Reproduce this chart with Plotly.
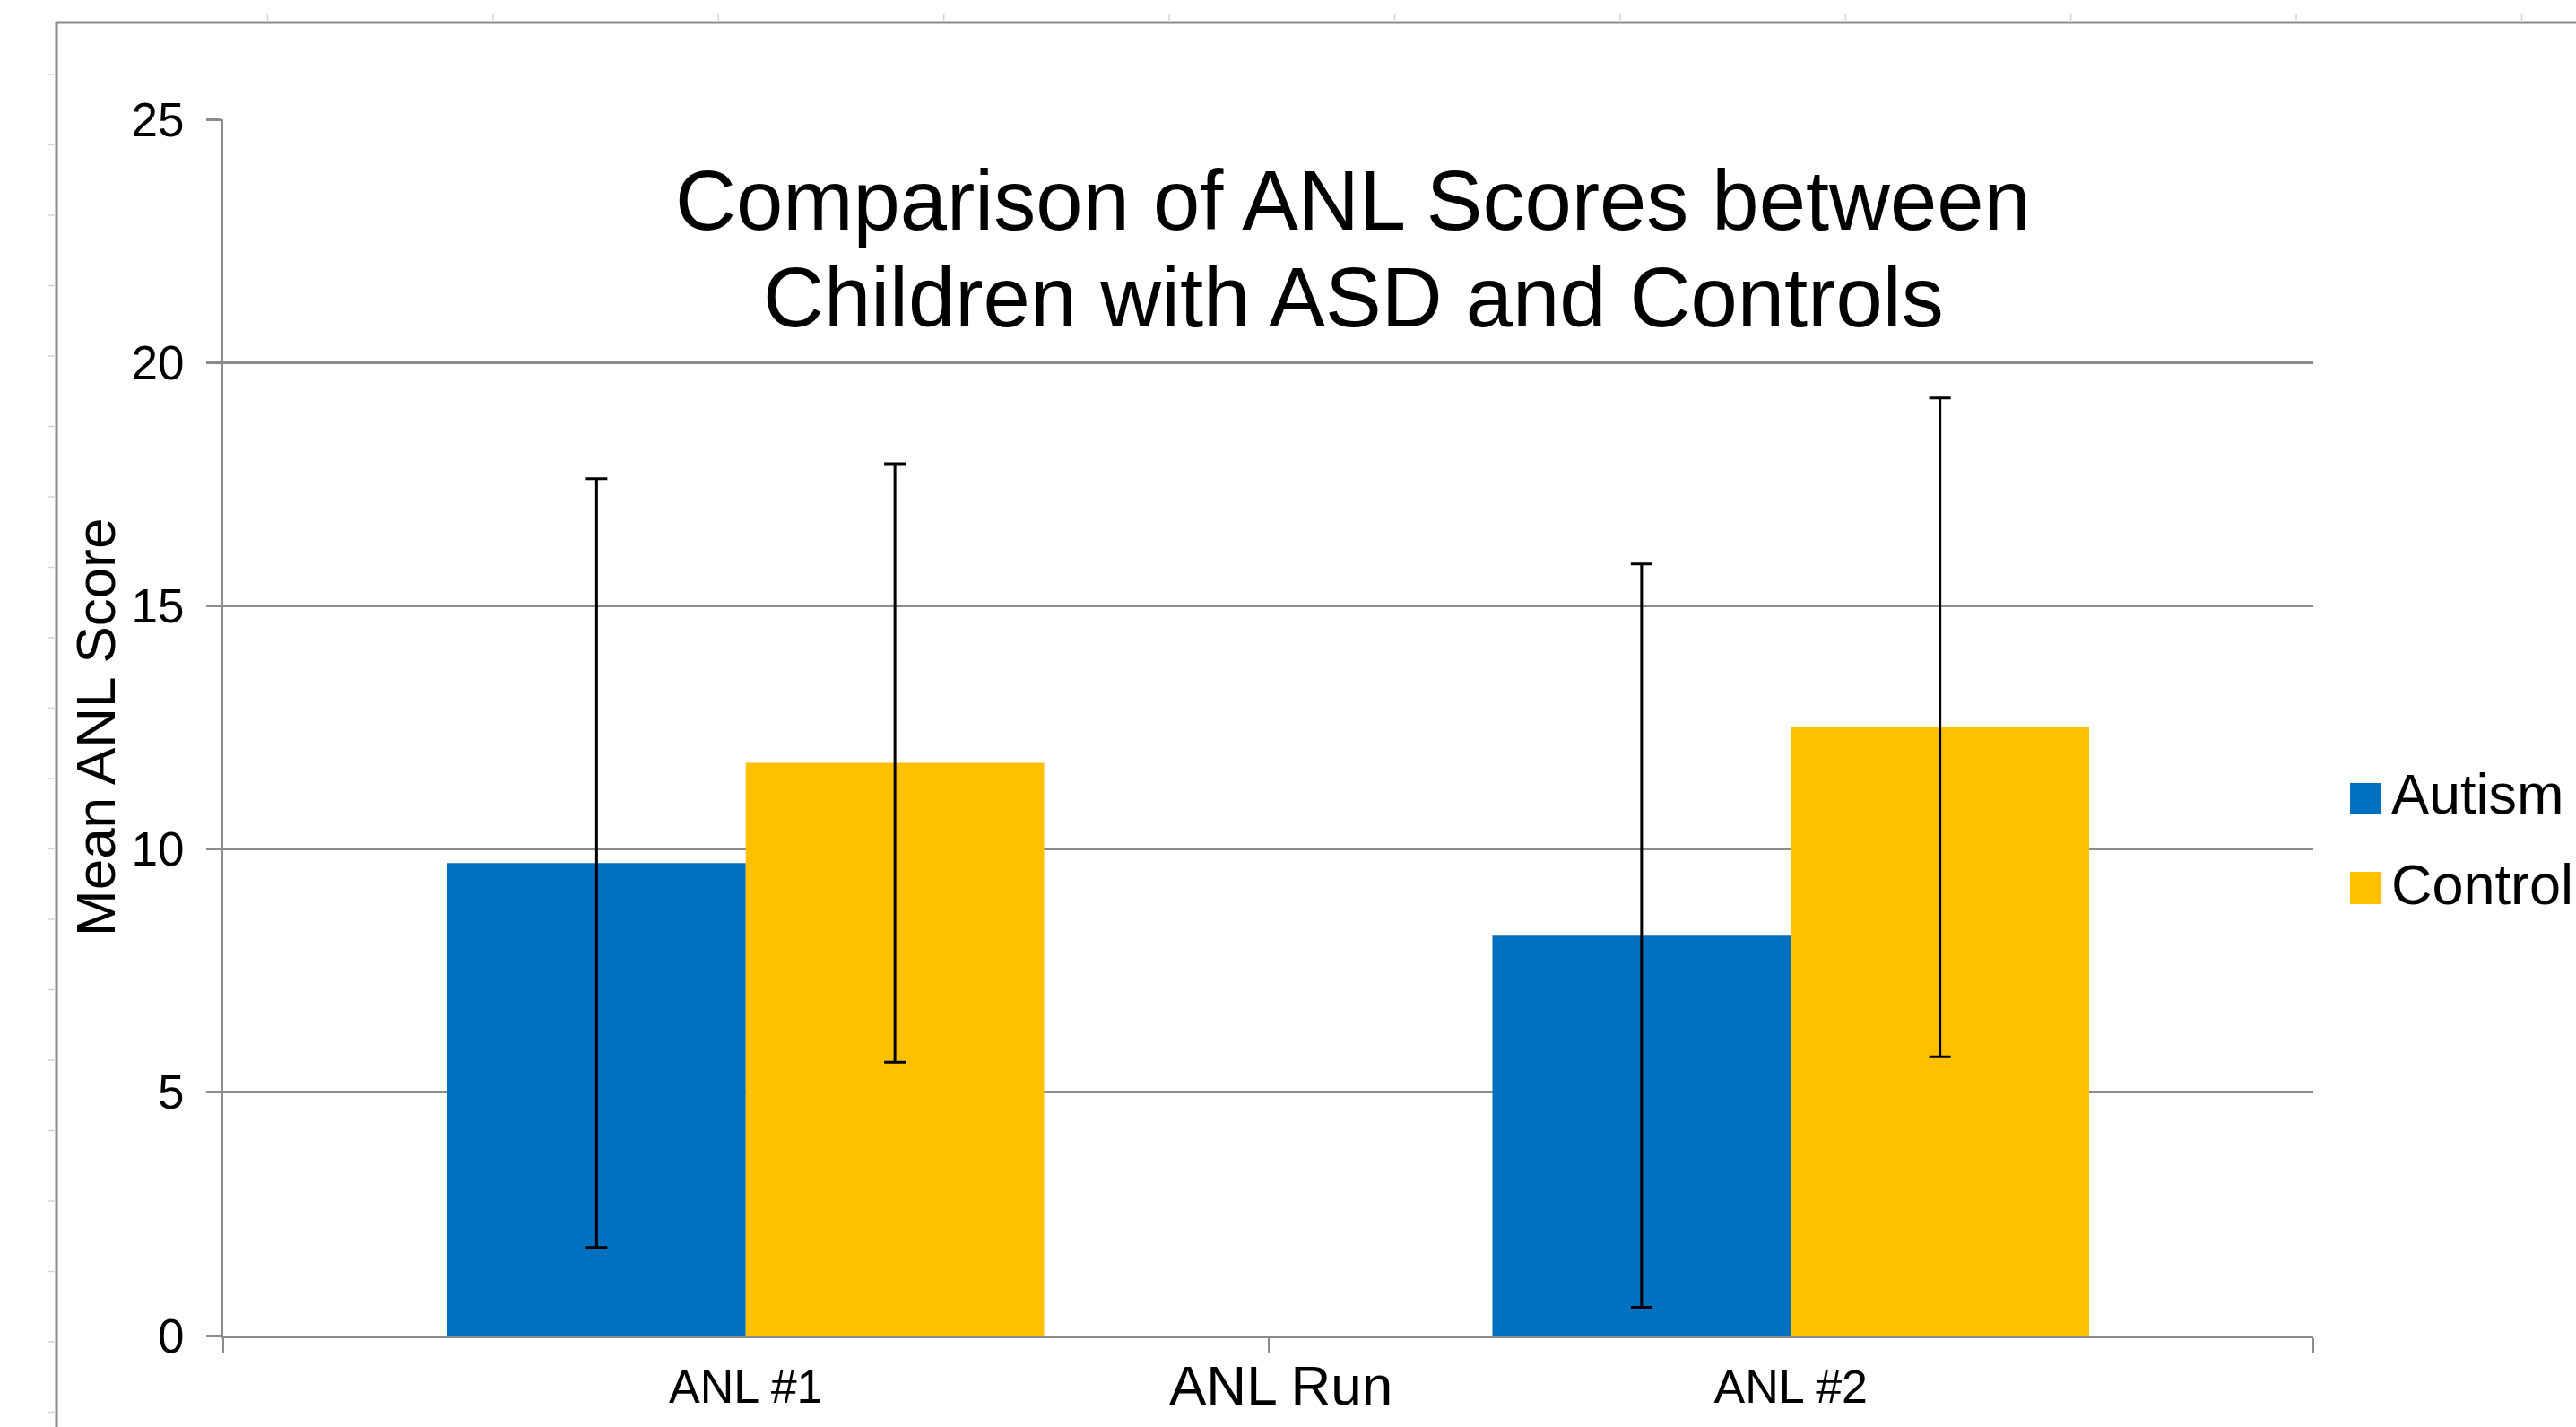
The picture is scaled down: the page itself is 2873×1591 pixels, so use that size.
import plotly.graph_objects as go

# ---- data ----
categories = ["ANL #1", "ANL #2"]
autism_mean = [9.71, 8.22]
autism_sd = [7.90, 7.64]
control_mean = [11.77, 12.50]
control_sd = [6.15, 6.77]
series_names = ["Autism", "Control"]
y_ticks = [0, 5, 10, 15, 20, 25]

title_lines = ["Comparison of ANL Scores between", "Children with ASD and Controls"]
y_title = "Mean ANL Score"
x_title = "ANL Run"

# ---- layout geometry (pixels) ----
W, H = 2873, 1591
L, R, T, B = 249, 2580, 133, 1489
FONT = "Liberation Sans, Arial, sans-serif"
GRAY = "#8c8c8c"
BLUE = "#0070C0"
GOLD = "#FFC000"


def px(x):
    return (x - L) / (R - L)


def py(y):
    return (B - y) / (B - T)


fig = go.Figure()
fig.add_trace(go.Bar(
    x=categories, y=autism_mean, name=series_names[0],
    marker=dict(color=BLUE, line=dict(width=0)),
    error_y=dict(type="data", array=autism_sd, visible=True,
                 color="black", thickness=3, width=12),
    showlegend=False,
))
fig.add_trace(go.Bar(
    x=categories, y=control_mean, name=series_names[1],
    marker=dict(color=GOLD, line=dict(width=0)),
    error_y=dict(type="data", array=control_sd, visible=True,
                 color="black", thickness=3, width=12),
    showlegend=False,
))

shapes = []
# chart-area frame (left and top) and spreadsheet cell tick marks
shapes.append(dict(type="line", xref="paper", yref="paper",
                   x0=px(63), x1=px(63), y0=py(25), y1=py(W),
                   line=dict(color=GRAY, width=3)))
shapes.append(dict(type="line", xref="paper", yref="paper",
                   x0=px(63), x1=px(W + 5), y0=py(25), y1=py(25),
                   line=dict(color=GRAY, width=3)))
for i in range(11):
    xx = 298.5 + i * 251.4
    shapes.append(dict(type="line", xref="paper", yref="paper",
                       x0=px(xx), x1=px(xx), y0=py(16), y1=py(24),
                       line=dict(color="#d4d4d4", width=1.5)))
for i in range(20):
    yy = 83 + i * 78.5
    shapes.append(dict(type="line", xref="paper", yref="paper",
                       x0=px(54), x1=px(62), y0=py(yy), y1=py(yy),
                       line=dict(color="#d4d4d4", width=1.5)))

annotations = []
# title (two lines, tight spacing like the original)
for txt, yc in zip(title_lines, [223, 331]):
    annotations.append(dict(text=txt, xref="paper", yref="paper",
                            x=px(1509), y=py(yc), xanchor="center", yanchor="middle",
                            showarrow=False, font=dict(family=FONT, size=94, color="black")))
# y axis title
annotations.append(dict(text=y_title, xref="paper", yref="paper",
                        x=px(106), y=0.5, textangle=-90, xanchor="center", yanchor="middle",
                        showarrow=False, font=dict(family=FONT, size=62, color="black")))
# x axis title
annotations.append(dict(text=x_title, xref="paper", yref="paper",
                        x=px(1428), y=py(1544), xanchor="center", yanchor="middle",
                        showarrow=False, font=dict(family=FONT, size=62, color="black")))

# legend (manual, to get large swatches)
for name, col, (sy0, sy1), yc in zip(series_names, [BLUE, GOLD],
                                      [(873, 907), (972, 1008)], [884.5, 985.5]):
    shapes.append(dict(type="rect", xref="paper", yref="paper",
                       x0=px(2621), x1=px(2655), y0=py(sy1), y1=py(sy0),
                       fillcolor=col, line=dict(width=0)))
    annotations.append(dict(text=name, xref="paper", yref="paper",
                            x=px(2665), y=py(yc), xanchor="left", yanchor="middle",
                            showarrow=False, font=dict(family=FONT, size=63, color="black")))

fig.update_layout(
    width=W, height=H,
    margin=dict(l=L, r=W - R, t=T, b=H - B, pad=0),
    paper_bgcolor="white", plot_bgcolor="white",
    barmode="group", bargap=0.429, bargroupgap=0,
    font=dict(family=FONT, color="black"),
    shapes=shapes, annotations=annotations,
    showlegend=False,
)
fig.update_xaxes(
    type="category", showline=True, linecolor=GRAY, linewidth=3,
    ticks="outside", tickson="boundaries", ticklen=16, tickwidth=2, tickcolor=GRAY,
    showgrid=False, zeroline=False,
    tickfont=dict(family=FONT, size=52, color="black"),
    ticklabelstandoff=10,
)
fig.update_yaxes(
    range=[0, 25], tickvals=y_ticks, showline=True, linecolor=GRAY, linewidth=3,
    ticks="outside", ticklen=16, tickwidth=2.5, tickcolor=GRAY,
    showgrid=True, gridcolor=GRAY, gridwidth=2.5, zeroline=False,
    tickfont=dict(family=FONT, size=53, color="black"),
    ticklabelstandoff=14,
)

fig.write_html(
    "out.html",
    config={"displayModeBar": False},
    post_script="document.body.style.margin='0';document.body.style.overflow='hidden';",
)
